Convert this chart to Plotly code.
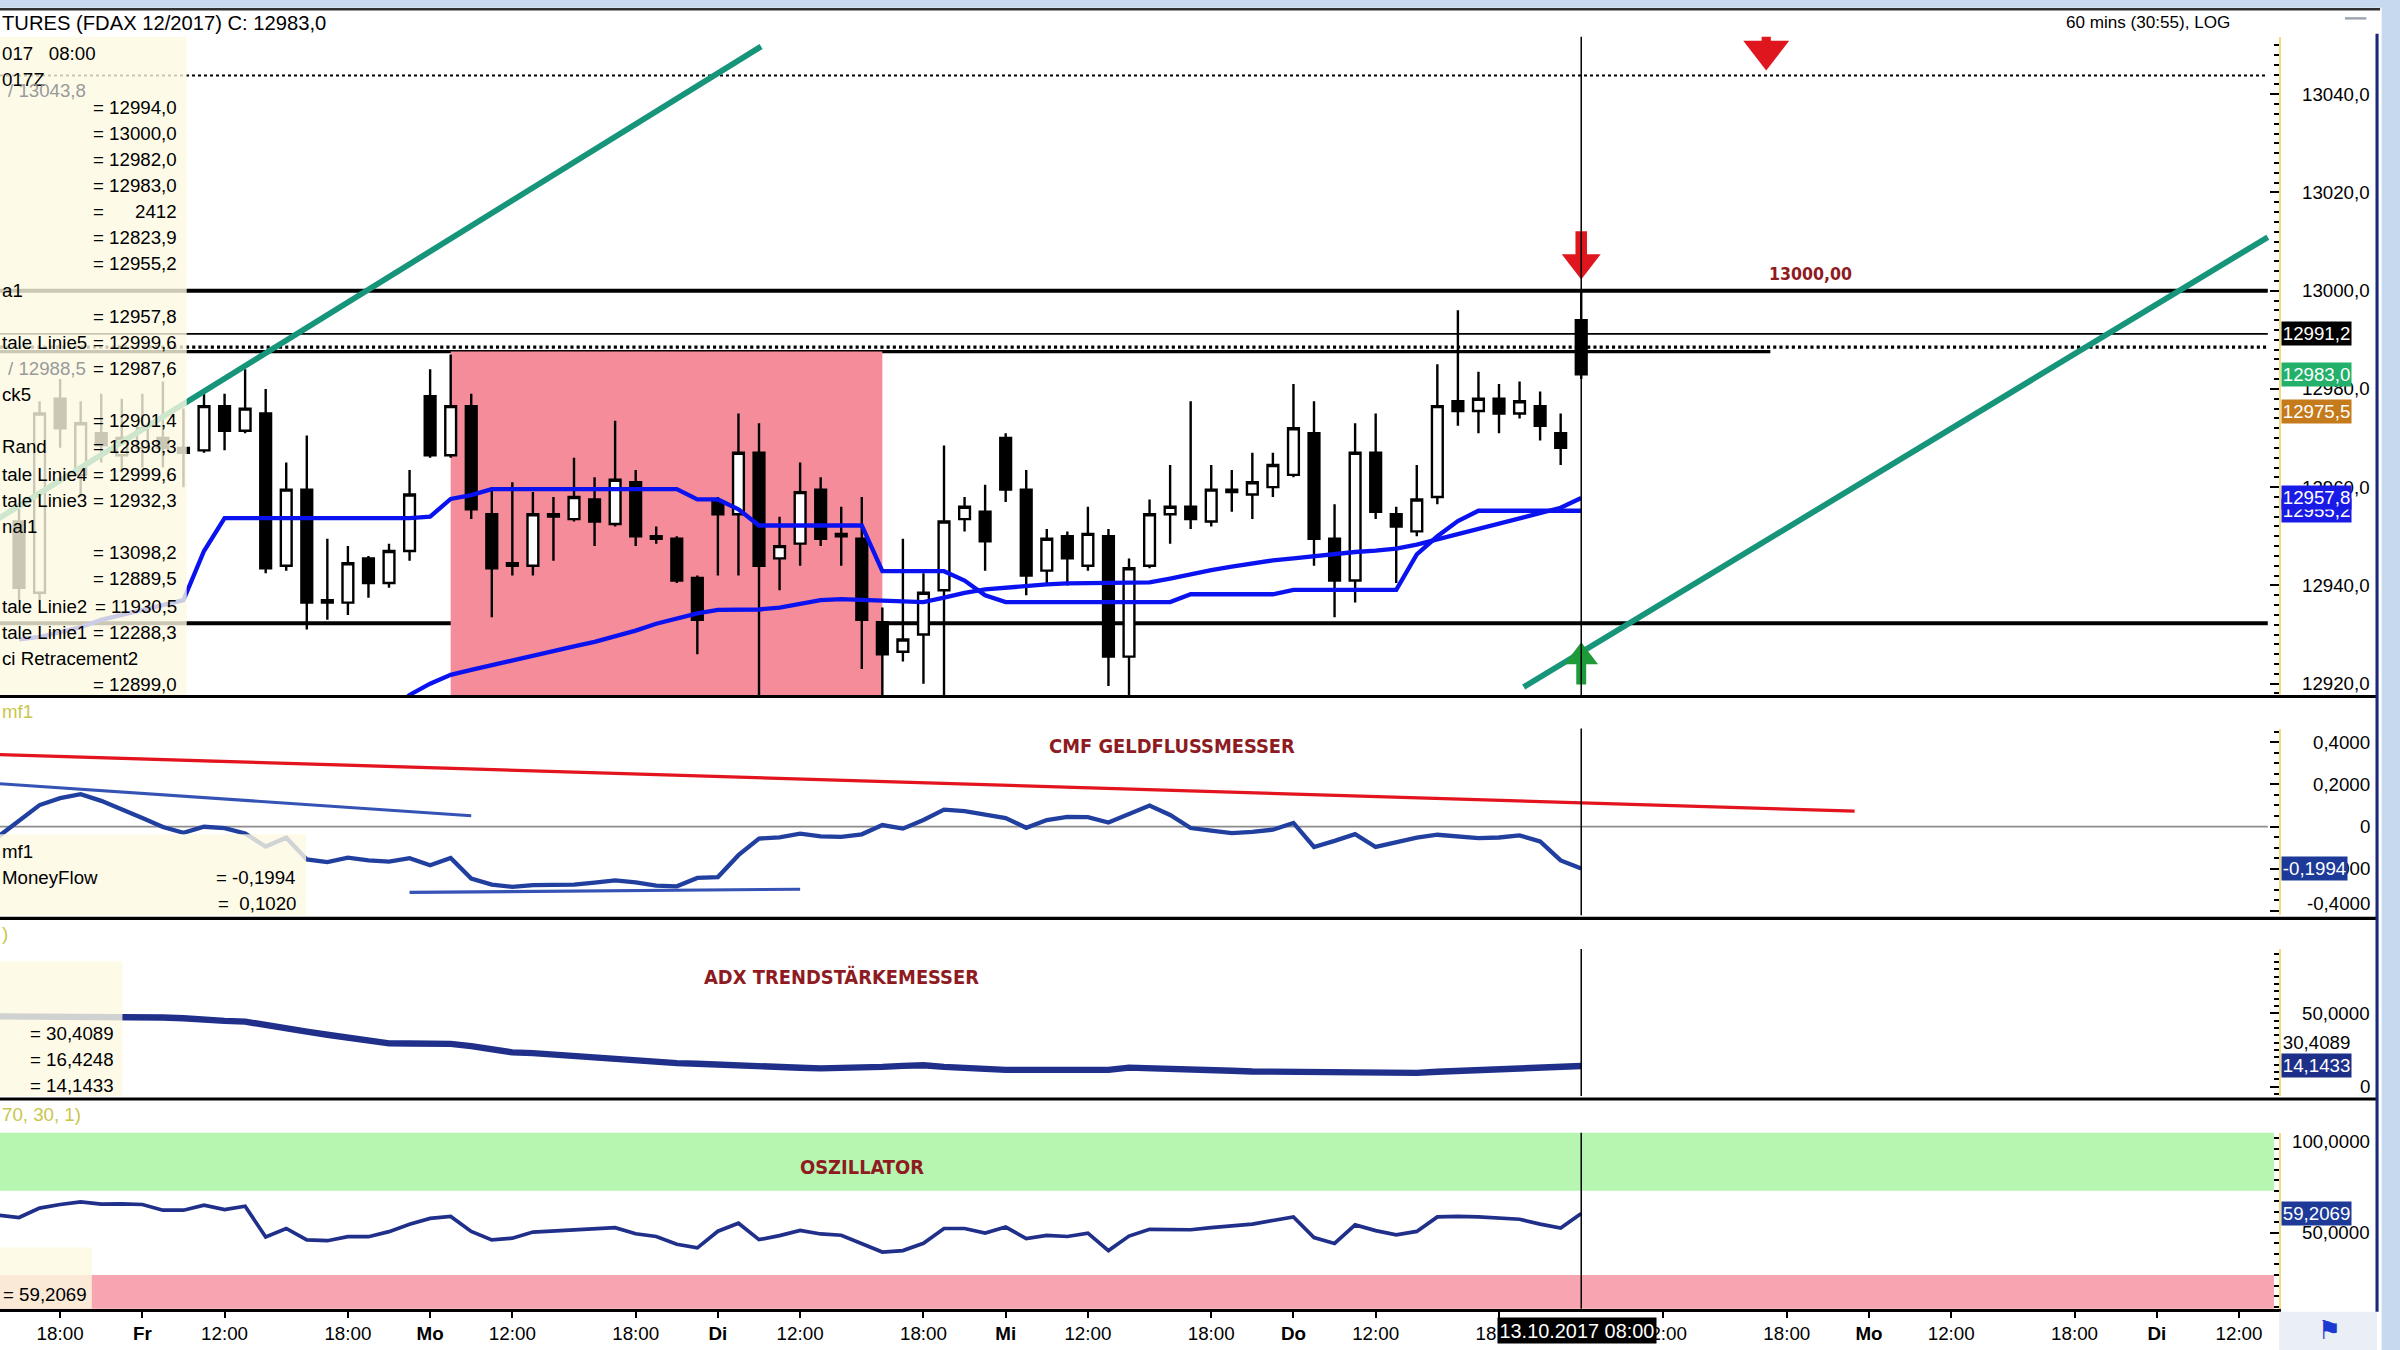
import plotly.graph_objects as go

# reference grid is 1568 x 882, the page is drawn at 2400 x 1350
W, H = 1568.0, 882.0
K = 2400 / W
SANS = 'Liberation Sans, Arial, sans-serif'
NARROW = 'Liberation Sans Narrow, Arial Narrow, DejaVu Sans Condensed, Liberation Sans, sans-serif'


def px(x):
    return x / W


def py(y):
    return 1 - y / H


def fs(v):
    return round(v * K, 1)


# hourly FDAX bars, bar 0 = Fr 06.10.2017 08:00, bar 70 = Fr 13.10.2017 08:00
bars = list(range(-6, 71))
open_ = [12953, 12938.5, 12978, 12962.5, 12971, 12966.5, 12968, 12970, 12968, 12967.5,
         12976.5, 12971.5, 12975, 12944, 12959.5, 12937, 12936.5, 12945.5, 12940.5, 12947,
         12978.5, 12966.5, 12976.5, 12954.5, 12944.5, 12944, 12954, 12953.5, 12957.5, 12952.5,
         12961, 12950, 12949.5, 12941.5, 12957, 12954.5, 12967, 12945.5, 12948.5, 12959.5,
         12950.5, 12949.5, 12932.5, 12926.5, 12930, 12939, 12953.5, 12955, 12970, 12959.5,
         12943, 12950, 12944, 12950, 12925.5, 12944, 12954.5, 12956, 12953, 12959,
         12958.5, 12960, 12962.5, 12971, 12949.5, 12941, 12967, 12954.5, 12951, 12958,
         12977.5, 12975.5, 12978, 12975, 12976.5, 12971, 12994]
high = [12956.5, 12977.5, 12982, 12977.5, 12979, 12978, 12979, 12981.5, 12976, 12979,
        12979, 12984, 12980, 12965, 12970.5, 12949.5, 12948, 12946, 12948.5, 12963.5,
        12984, 12987, 12979, 12960, 12961, 12959, 12958, 12966, 12962, 12973.5,
        12963.5, 12952, 12950, 12942, 12958, 12975, 12973, 12954, 12965, 12962,
        12956, 12958, 12935.5, 12949.5, 12942.5, 12968.5, 12958, 12960.5, 12971, 12963.5,
        12951.5, 12951, 12956, 12951.5, 12945.5, 12957.5, 12964.5, 12977.5, 12964.5, 12963.5,
        12967, 12967, 12981, 12977.5, 12956.5, 12973, 12975, 12956, 12964.5, 12985,
        12996, 12983.5, 12981, 12981.5, 12979.5, 12975, 13000]
low = [12937, 12937, 12968, 12958, 12965, 12963, 12964, 12964, 12960, 12967,
       12967.5, 12971, 12942.5, 12943, 12931, 12933, 12934, 12937.5, 12939.5, 12945,
       12966, 12966, 12953.5, 12933.5, 12942, 12942, 12945, 12953, 12948, 12952,
       12948, 12948.5, 12940.5, 12926, 12942, 12942, 12916, 12939, 12944, 12948,
       12944, 12923, 12916, 12924.5, 12920, 12916, 12951, 12943, 12957, 12938,
       12940, 12940, 12943, 12919.5, 12916, 12943.5, 12948.5, 12951.5, 12952, 12955,
       12953.5, 12958, 12962, 12944, 12933.5, 12936.5, 12953.5, 12940.5, 12950, 12956.5,
       12972.5, 12971, 12971, 12974, 12969.5, 12964.5, 12982]
close = [12939.5, 12975, 12972, 12973, 12968.5, 12970, 12972, 12968, 12967, 12976.5,
         12971.5, 12976, 12943.5, 12959.5, 12936.5, 12936.5, 12944.5, 12940.5, 12947, 12958.5,
         12966.5, 12976.5, 12955.5, 12943.5, 12944, 12954.5, 12954.5, 12958, 12953, 12961.5,
         12950, 12949.5, 12941, 12933, 12954.5, 12967, 12944, 12948, 12959, 12949.5,
         12950, 12933, 12926, 12929, 12938.5, 12953, 12956, 12949, 12959.5, 12942,
         12949.5, 12945.5, 12950.5, 12925.5, 12943.5, 12954.5, 12956, 12953.5, 12959.5, 12959.5,
         12961, 12964.5, 12972, 12949.5, 12941, 12967, 12955, 12952, 12957.5, 12976.5,
         12975.5, 12978, 12975, 12977.5, 12972.5, 12968, 12983]

# price overlays (same bars as the candles)
step_line = [12929, 12929.5, 12930.5, 12931.5, 12933, 12934, 12935, 12936, 12937, 12947,
             12953.7, 12953.7, 12953.7, 12953.7, 12953.7, 12953.7, 12953.7, 12953.7, 12953.7, 12953.7,
             12954, 12957.6, 12958.4, 12959.6, 12959.6, 12959.6, 12959.6, 12959.6, 12959.6, 12959.6,
             12959.6, 12959.6, 12959.6, 12957.5, 12957.5, 12955.5, 12952.2, 12952.2, 12952.2, 12952.2,
             12952.2, 12952.2, 12942.9, 12942.9, 12942.9, 12942.9, 12941, 12938, 12936.6, 12936.6,
             12936.6, 12936.6, 12936.6, 12936.6, 12936.6, 12936.6, 12936.6, 12938.2, 12938.2, 12938.2,
             12938.2, 12938.2, 12939.1, 12939.1, 12939.1, 12939.1, 12939.1, 12939.1, 12946.3, 12950,
             12953.1, 12955.2, 12955.2, 12955.2, 12955.2, 12955.2, 12955.2]
ma_bars = list(range(12, 71))
ma_line = [12914, 12917.7, 12920, 12921.8, 12922.8, 12923.8, 12924.8, 12925.8, 12926.7, 12927.6,
           12928.5, 12929.6, 12930.8, 12932.2, 12933.3, 12934.3, 12935, 12935, 12935.1, 12935.5,
           12936.3, 12937, 12937.2, 12937, 12936.8, 12936.6, 12936.6, 12937.5, 12938.5, 12939.2,
           12939.6, 12939.9, 12940.2, 12940.4, 12940.4, 12940.4, 12940.4, 12940.6, 12941.4, 12942.3,
           12943.1, 12943.8, 12944.5, 12945.1, 12945.5, 12946, 12946.4, 12946.8, 12947.1, 12947.5,
           12948.3, 12949.4, 12950.5, 12951.6, 12952.7, 12953.8, 12954.8, 12955.8, 12957.8]

trend_up_bars = [-7, 30.1]
trend_up_prices = [12953.6, 13049.7]
trend_low_bars = [67.2, 103.4]
trend_low_prices = [12919.3, 13010.9]

levels = [13043.8, 13000.0, 12991.2, 12988.5, 12987.6, 12932.3]
level_ends = [103.4, 103.4, 103.4, 103.4, 79.2, 103.4]
zone_bars = [15, 36]
zone_top = 12987.6
cursor_bar = 70
sell_bars = [70, 79]
sell_tips = [13003.7, 13047.3]
buy_bars = [70]
buy_tips = [12927.0]

# indicator series, one value per bar starting at bar -7
ind_bars = list(range(-7, 71))
cmf = [-0.047, 0.028, 0.102, 0.135, 0.154, 0.122, 0.083, 0.041, -0.002, -0.030,
       -0.001, -0.008, -0.033, -0.095, -0.053, -0.156, -0.169, -0.148, -0.161, -0.167,
       -0.150, -0.184, -0.149, -0.247, -0.276, -0.287, -0.278, -0.276, -0.276, -0.267,
       -0.256, -0.265, -0.281, -0.284, -0.244, -0.240, -0.136, -0.057, -0.051, -0.034,
       -0.047, -0.049, -0.037, 0.007, -0.010, 0.031, 0.080, 0.073, 0.059, 0.040,
       -0.006, 0.031, 0.046, 0.045, 0.019, 0.061, 0.100, 0.055, -0.007, -0.020,
       -0.031, -0.025, -0.015, 0.017, -0.097, -0.068, -0.036, -0.097, -0.077, -0.053,
       -0.039, -0.047, -0.055, -0.052, -0.042, -0.071, -0.161, -0.1994]
cmf_red_bars = [-7, 83.3]
cmf_red = [0.342, 0.073]
cmf_top_bars = [-7, 16]
cmf_top = [0.204, 0.051]
cmf_low_bars = [13, 32]
cmf_low = [-0.313, -0.298]

adx = [47.9, 47.9, 47.9, 47.9, 47.9, 47.9, 47.9, 47.5, 47.1, 46.6,
       45.3, 44.8, 44.3, 41.7, 39.6, 37.5, 35.4, 33.3, 30.7, 29.5,
       29.4, 29.3, 29.2, 27.6, 25.5, 23.4, 22.9, 21.9, 20.3, 19.3,
       18.1, 17.4, 16.7, 16.1, 15.6, 14.9, 14.3, 13.5, 13.3, 12.9,
       12.5, 12.5, 12.9, 13.5, 14.2, 14.6, 13.5, 12.5, 11.7, 11.5,
       11.5, 11.5, 11.5, 11.5, 11.5, 13.0, 12.8, 11.6, 11.4, 11.2,
       10.9, 10.4, 10.2, 10.0, 9.8, 9.7, 9.6, 9.5, 9.4, 9.4,
       10.2, 10.9, 11.5, 12.2, 12.8, 13.5, 14.1, 14.1433]

osc = [58.4, 57.3, 61.8, 63.5, 64.7, 63.7, 63.8, 63.5, 60.8, 60.8,
       63.2, 61.1, 62.7, 48.1, 52.1, 46.7, 46.3, 48.2, 48.2, 50.6,
       54.1, 56.9, 57.8, 50.7, 46.7, 47.5, 50.4, 51.0, 51.3, 52.0,
       52.5, 49.6, 48.3, 44.6, 42.9, 50.8, 54.6, 46.8, 48.7, 51.2,
       49.5, 48.9, 44.8, 40.9, 41.6, 45.1, 52.1, 52.1, 49.9, 52.8,
       47.3, 48.8, 48.3, 49.9, 41.6, 48.5, 51.7, 51.8, 51.5, 52.5,
       53.2, 54.2, 55.9, 57.6, 47.8, 45.0, 53.8, 51.1, 49.1, 50.7,
       57.6, 57.9, 57.6, 57.1, 56.5, 54.2, 52.3, 59.2069]
overbought = [70, 100]
oversold = [0, 30]

tick_bars = [-4, 0, 4, 10, 14, 18, 24, 28, 32, 38, 42, 46, 52, 56, 60, 66,
             74, 80, 84, 88, 94, 98, 102]
tick_text = ['18:00', '<b>Fr</b>', '12:00', '18:00', '<b>Mo</b>', '12:00', '18:00', '<b>Di</b>',
             '12:00', '18:00', '<b>Mi</b>', '12:00', '18:00', '<b>Do</b>', '12:00', '18:00',
             '12:00', '18:00', '<b>Mo</b>', '12:00', '18:00', '<b>Di</b>', '12:00']

BLUE = '#0a12f0'
NAVY = '#1f2f8a'
TEAL = '#16957a'
DARKRED = '#8e1b22'
YELLOW = '#c9c64a'
RED = '#e0161e'
GREEN = '#1f9a3a'
CREAM = 'rgba(252,250,226,0.80)'
X_RANGE = [-6.925, 103.95]
PLOT_RIGHT = 1489
PT = 1 / 3.21   # price points per reference pixel in the price panel

fig = go.Figure()

# ---- main price panel
fig.add_trace(go.Candlestick(
    x=bars, open=open_, high=high, low=low, close=close,
    increasing=dict(line=dict(color='black', width=fs(1.6)), fillcolor='white'),
    decreasing=dict(line=dict(color='black', width=fs(1.6)), fillcolor='black'),
    whiskerwidth=0, hoverinfo='skip', xaxis='x', yaxis='y'))
fig.add_trace(go.Scatter(x=bars, y=step_line, mode='lines', line=dict(color=BLUE, width=fs(2.8)),
                         xaxis='x', yaxis='y'))
fig.add_trace(go.Scatter(x=ma_bars, y=ma_line, mode='lines', line=dict(color=BLUE, width=fs(2.8)),
                         xaxis='x', yaxis='y'))
for bx, by in [(trend_up_bars, trend_up_prices), (trend_low_bars, trend_low_prices)]:
    fig.add_trace(go.Scatter(x=bx, y=by, mode='lines', line=dict(color=TEAL, width=fs(3.8)),
                             xaxis='x', yaxis='y'))

# signal arrows: a short shaft plus a triangle head, hung off the tip price
for b, tip in zip(sell_bars, sell_tips):
    big = b == cursor_bar
    head_h = 13 if big else 10
    shaft_top = 27 if big else 15
    fig.add_trace(go.Scatter(x=[b, b], y=[tip + (head_h - 2) * PT, tip + shaft_top * PT], mode='lines',
                             line=dict(color=RED, width=fs(7.5 if big else 6)), xaxis='x', yaxis='y'))
    fig.add_trace(go.Scatter(x=[b], y=[tip + head_h / 2 * PT], mode='markers',
                             marker=dict(symbol='triangle-down', size=fs(22 if big else 26), color=RED,
                                         line=dict(width=0)), xaxis='x', yaxis='y'))
for b, tip in zip(buy_bars, buy_tips):
    fig.add_trace(go.Scatter(x=[b, b], y=[tip - 8 * PT, tip - 23 * PT], mode='lines',
                             line=dict(color=GREEN, width=fs(6.5)), xaxis='x', yaxis='y'))
    fig.add_trace(go.Scatter(x=[b], y=[tip - 5 * PT], mode='markers',
                             marker=dict(symbol='triangle-up', size=fs(19), color=GREEN, line=dict(width=0)),
                             xaxis='x', yaxis='y'))

# ---- CMF panel
for bx, by, col, wd in [(cmf_red_bars, cmf_red, '#e3141e', 2.2),
                        (cmf_top_bars, cmf_top, '#3553b5', 2.0),
                        (cmf_low_bars, cmf_low, '#3553b5', 2.0)]:
    fig.add_trace(go.Scatter(x=bx, y=by, mode='lines', line=dict(color=col, width=fs(wd)),
                             xaxis='x2', yaxis='y2'))
fig.add_trace(go.Scatter(x=ind_bars, y=cmf, mode='lines', line=dict(color='#213f9f', width=fs(2.8)),
                         xaxis='x2', yaxis='y2'))

# ---- ADX panel
fig.add_trace(go.Scatter(x=ind_bars, y=adx, mode='lines', line=dict(color=NAVY, width=fs(4.2)),
                         xaxis='x3', yaxis='y3'))

# ---- oscillator panel
fig.add_trace(go.Scatter(x=ind_bars, y=osc, mode='lines', line=dict(color=NAVY, width=fs(2.4)),
                         xaxis='x4', yaxis='y4'))

shapes = []
# horizontal levels in the price panel
level_styles = [('dot', 1.3), ('solid', 2.6), ('solid', 1.2), ('dot', 2.0), ('solid', 2.0), ('solid', 2.6)]
for lv, end, (dash, wd) in zip(levels, level_ends, level_styles):
    shapes.append(dict(type='line', xref='x', yref='y', x0=X_RANGE[0], x1=end, y0=lv, y1=lv,
                       line=dict(color='black', width=fs(wd), dash=dash), layer='below'))
shapes.append(dict(type='rect', xref='x', yref='y', x0=zone_bars[0], x1=zone_bars[1],
                   y0=12900, y1=zone_top, fillcolor='#f48c9a', line=dict(width=0), layer='below'))
# CMF zero line
shapes.append(dict(type='line', xref='x2', yref='y2', x0=X_RANGE[0], x1=103.4, y0=0, y1=0,
                   line=dict(color='#8c8c8c', width=fs(1.2)), layer='below'))
# oscillator bands
shapes.append(dict(type='rect', xref='x4', yref='y4', x0=X_RANGE[0], x1=103.7, y0=overbought[0],
                   y1=overbought[1], fillcolor='#b6f6b0', line=dict(width=0), layer='below'))
shapes.append(dict(type='rect', xref='x4', yref='y4', x0=X_RANGE[0], x1=103.7, y0=oversold[0],
                   y1=oversold[1], fillcolor='#f6a5b1', line=dict(width=0), layer='below'))
# cursor line through every panel
for xr, yr in [('x', 'y'), ('x2', 'y2'), ('x3', 'y3'), ('x4', 'y4')]:
    shapes.append(dict(type='line', xref=xr, yref=yr + ' domain', x0=cursor_bar, x1=cursor_bar,
                       y0=0, y1=1, line=dict(color='black', width=fs(1.0))))
# semi transparent legend boxes on the left
for x1, y0, y1 in [(122, 455, 24), (200, 598, 545), (80, 716, 628), (60, 855, 815)]:
    shapes.append(dict(type='rect', xref='paper', yref='paper', x0=0, x1=px(x1), y0=py(y0), y1=py(y1),
                       fillcolor=CREAM, line=dict(width=0), layer='above'))
# panel separators, window frame
for yy in [455, 600, 718]:
    shapes.append(dict(type='line', xref='paper', yref='paper', x0=0, x1=px(1553), y0=py(yy), y1=py(yy),
                       line=dict(color='black', width=fs(2.0))))
shapes.append(dict(type='rect', xref='paper', yref='paper', x0=0, x1=1, y0=py(5), y1=1,
                   fillcolor='#c6d9ee', line=dict(width=0)))
shapes.append(dict(type='line', xref='paper', yref='paper', x0=0, x1=px(1555), y0=py(6), y1=py(6),
                   line=dict(color='#303030', width=fs(1.6))))
shapes.append(dict(type='rect', xref='paper', yref='paper', x0=px(1556), x1=1, y0=0, y1=1,
                   fillcolor='#c6d9ee', line=dict(width=0)))
shapes.append(dict(type='rect', xref='paper', yref='paper', x0=px(PLOT_RIGHT), x1=px(1553), y0=0, y1=py(857),
                   fillcolor='#eaeff5', line=dict(width=0)))
shapes.append(dict(type='line', xref='paper', yref='paper', x0=px(1553), x1=px(1553), y0=py(857), y1=py(22),
                   line=dict(color='#1b2a78', width=fs(2.0))))
shapes.append(dict(type='line', xref='paper', yref='paper', x0=px(1532), x1=px(1546), y0=py(12), y1=py(12),
                   line=dict(color='#9aa4ae', width=fs(1.6))))

ann = []


def note(text, x, y, anchor='left', color='black', size=12.2, bold=False, family=SANS, yanchor='middle'):
    if bold:
        text = '<b>' + text + '</b>'
    ann.append(dict(text=text, xref='paper', yref='paper', x=px(x), y=py(y), xanchor=anchor,
                    yanchor=yanchor, showarrow=False, font=dict(family=family, size=fs(size), color=color)))


nb = '\u00a0'
note('TURES (FDAX 12/2017) C: 12983,0', 0, 15, size=13.2)
note('60 mins (30:55), LOG', 1458, 15, anchor='right', size=11.2)
left_labels = [('017' + nb * 3 + '08:00', 35), ('017Z', 52), ('a1', 190), ('tale Linie5', 224), ('ck5', 258),
               ('Rand', 292), ('tale Linie4', 310), ('tale Linie3', 327), ('nal1', 344), ('tale Linie2', 396),
               ('tale Linie1', 413), ('ci Retracement2', 430)]
for t, y in left_labels:
    note(t, 0, y)
note('/ 13043,8', 4, 59, color='#9a9a9a')
note('/ 12988,5', 4, 241, color='#9a9a9a')
right_values = [('= 12994,0', 70), ('= 13000,0', 87), ('= 12982,0', 104), ('= 12983,0', 121),
                ('=' + nb * 6 + '2412', 138), ('= 12823,9', 155), ('= 12955,2', 172), ('= 12957,8', 207),
                ('= 12999,6', 224), ('= 12987,6', 241), ('= 12901,4', 275), ('= 12898,3', 292),
                ('= 12999,6', 310), ('= 12932,3', 327), ('= 13098,2', 361), ('= 12889,5', 378),
                ('= 11930,5', 396), ('= 12288,3', 413), ('= 12899,0', 447)]
for t, y in right_values:
    note(t, 117, y, anchor='right')

note('mf1', 0, 465, color=YELLOW)
note('mf1', 0, 556)
note('MoneyFlow', 0, 573)
note('= -0,1994', 195, 573, anchor='right')
note('=' + nb * 2 + '0,1020', 195, 590, anchor='right')
note(')', 0, 610, color=YELLOW)
for t, y in [('= 30,4089', 675), ('= 16,4248', 692), ('= 14,1433', 709)]:
    note(t, 76, y, anchor='right')
note('70, 30, 1)', 0, 728, color=YELLOW)
note('= 59,2069', 58, 846, anchor='right')

note('CMF GELDFLUSSMESSER', 766, 488, anchor='center', color=DARKRED, size=13, bold=True, family=NARROW)
note('ADX TRENDSTÄRKEMESSER', 550, 638, anchor='center', color=DARKRED, size=13, bold=True, family=NARROW)
note('OSZILLATOR', 563, 763, anchor='center', color=DARKRED, size=13, bold=True, family=NARROW)
note('13000,00', 1183, 179, anchor='center', color=DARKRED, size=11.5, bold=True, family=NARROW)
note('100,0000', 1550, 746, anchor='right', size=12.2)
note('\u2691', 1522, 869, anchor='center', color='#1a3ad0', size=17, family='DejaVu Sans')

# right axis tick labels, right aligned
axis_labels = [
    ('y', [13040, 13020, 13000, 12980, 12960, 12940, 12920],
     ['13040,0', '13020,0', '13000,0', '12980,0', '12960,0', '12940,0', '12920,0']),
    ('y2', [0.4, 0.2, 0, -0.2, -0.4], ['0,4000', '0,2000', '0', '-0,2000', '-0,4000']),
    ('y3', [50, 0], ['50,0000', '0']),
    ('y4', [50], ['50,0000']),
]
for yr, vals, texts in axis_labels:
    for v, t in zip(vals, texts):
        shift = fs(5) if t == '-0,4000' else 0
        ann.append(dict(text=t, xref='paper', yref=yr, x=px(1550), y=v, xanchor='right', yanchor='middle',
                        yshift=shift, showarrow=False, font=dict(family=SANS, size=fs(12.2), color='black')))

# last-value boxes on the right axes
value_boxes = [('y', 12991.2, '12991,2', '#000000'), ('y', 12983.0, '12983,0', '#22b06a'),
               ('y', 12975.5, '12975,5', '#c57a1c'), ('y', 12955.2, '12955,2', '#1a1ae6'),
               ('y', 12957.8, '12957,8', '#1a1ae6'), ('y2', -0.1994, '-0,1994', '#1d3a98'),
               ('y3', 30.4089, '30,4089', None), ('y3', 14.1433, '14,1433', '#1d2f88'),
               ('y4', 59.2069, '59,2069', '#1d3a98')]
for yr, v, t, bg in value_boxes:
    a = dict(text=t, xref='paper', yref=yr, x=px(PLOT_RIGHT + 1), y=v, xanchor='left', yanchor='middle',
             showarrow=False, font=dict(family=SANS, size=fs(12.2), color='white' if bg else 'black'),
             borderpad=fs(0.5))
    if bg:
        a['bgcolor'] = bg
    ann.append(a)

# cursor date box on the time axis
ann.append(dict(text='13.10.2017 08:00', xref='x4', yref='paper', x=cursor_bar - 0.2, y=py(869),
                xanchor='center', yanchor='middle', showarrow=False, bgcolor='black', borderpad=fs(1),
                font=dict(family=SANS, size=fs(13), color='white')))


def right_axis(top, bottom, rng, tick0, dtick, minor, anchor):
    return dict(domain=[py(bottom), py(top)], range=rng, side='right', anchor=anchor,
                showgrid=False, zeroline=False, showline=True, linecolor='#efdc7c', linewidth=fs(1.3),
                ticks='inside', ticklen=fs(6), tickwidth=fs(1.2), tickcolor='black',
                tickmode='linear', tick0=tick0, dtick=dtick, showticklabels=False, fixedrange=True,
                minor=dict(ticks='inside', ticklen=fs(3), tickwidth=fs(1.2), tickcolor='black',
                           tick0=tick0, dtick=minor))


def time_axis(anchor, labels=False):
    d = dict(domain=[0, px(PLOT_RIGHT)], range=X_RANGE, anchor=anchor, showgrid=False, zeroline=False,
             showticklabels=False, fixedrange=True)
    if anchor != 'y':
        d['matches'] = 'x'
    if labels:
        d.update(showticklabels=True, tickmode='array', tickvals=tick_bars, ticktext=tick_text,
                 ticks='outside', ticklen=fs(4), tickwidth=fs(1.2), tickcolor='black',
                 showline=True, linecolor='black', linewidth=fs(2.0),
                 tickfont=dict(family=SANS, size=fs(12.3), color='black'))
    return d


fig.update_layout(
    width=2400, height=1350, margin=dict(l=0, r=0, t=0, b=0),
    paper_bgcolor='white', plot_bgcolor='white', showlegend=False, hovermode=False,
    boxgap=0.25,
    xaxis=dict(time_axis('y'), rangeslider=dict(visible=False)),
    xaxis2=time_axis('y2'),
    xaxis3=time_axis('y3'),
    xaxis4=time_axis('y4', labels=True),
    yaxis=right_axis(24, 455, [12917.4, 13051.7], 12920, 20, 2, 'x'),
    yaxis2=right_axis(476, 598, [-0.4218, 0.4655], -0.4, 0.2, 0.05, 'x2'),
    yaxis3=right_axis(620, 716, [-6.25, 93.75], 0, 50, 5, 'x3'),
    yaxis4=right_axis(740, 855, [14.0, 97.64], 0, 50, 5, 'x4'),
    shapes=shapes,
    annotations=ann,
)

fig.write_html("out.html", config={'displayModeBar': False},
               post_script="document.body.style.margin='0';")
